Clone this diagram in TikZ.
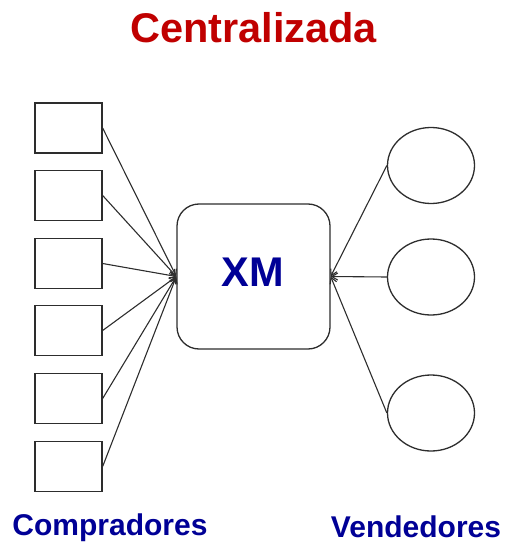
\documentclass[tikz,border=0pt]{standalone}
\usepackage{fontspec}
\setmainfont{Liberation Sans}
\usetikzlibrary{arrows.meta,shapes.geometric}
\definecolor{titlered}{RGB}{192,0,0}
\definecolor{labelblue}{RGB}{0,0,150}
\definecolor{strokegray}{RGB}{45,45,45}
\begin{document}
\begin{tikzpicture}[x=1pt,y=-1pt,
  buyer/.style={draw=strokegray,line width=1.3pt,minimum width=67pt,minimum height=50pt,inner sep=0pt},
  seller/.style={draw=strokegray,line width=1.3pt,ellipse,minimum width=87pt,minimum height=76pt,inner sep=0pt},
  hub/.style={draw=strokegray,line width=1.3pt,rounded corners=22pt,minimum width=153pt,minimum height=145pt,inner sep=0pt},
  link/.style={draw=strokegray,line width=1.1pt,-{Straight Barb[length=6pt,width=7pt]}},
  bigtext/.style={font=\bfseries\fontsize{41.5}{41.5}\selectfont},
  labeltext/.style={font=\bfseries\fontsize{30}{30}\selectfont,text=labelblue}]
\useasboundingbox (0,0) rectangle (505,545);
\node[bigtext,text=titlered] (title) at (253.5,28) {Centralizada};
\node[hub] (xm) at (253.5,276.5) {};
\node[bigtext,text=labelblue] (xmtext) at (253,272) {XM};
\foreach \i/\y in {1/128,2/195.5,3/263.5,4/330.5,5/398.5,6/466.5}{
  \node[buyer] (b\i) at (68.5,\y) {};
}
\node[seller] (s1) at (431,165.5) {};
\node[seller] (s2) at (431,277) {};
\node[seller] (s3) at (431,413) {};
\foreach \i in {1,...,6}{
  \draw[link] (b\i.east) -- (xm.west);
}
\foreach \i in {1,2,3}{
  \draw[link] (s\i.west) -- (xm.east);
}
\node[labeltext] (comp) at (110,528) {Compradores};
\node[labeltext] (vend) at (416,527) {Vendedores};
\end{tikzpicture}
\end{document}
